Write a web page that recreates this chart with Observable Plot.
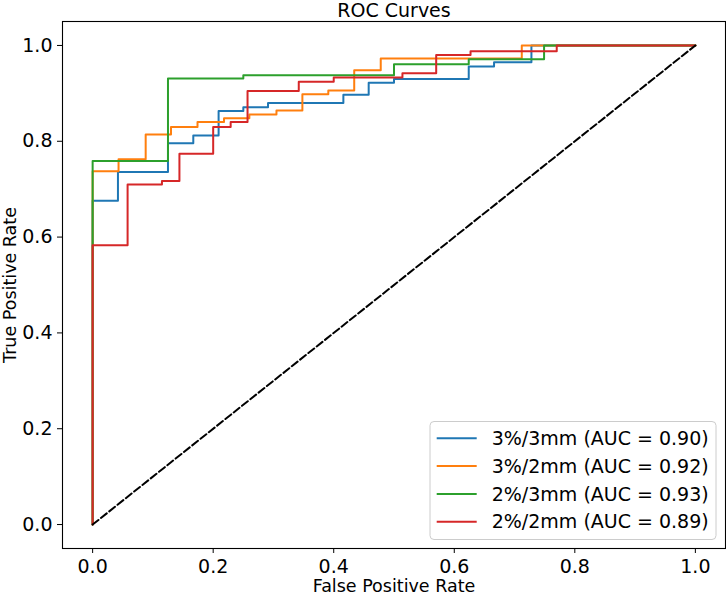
<!DOCTYPE html>
<html>
<head>
<meta charset="utf-8">
<script src="https://cdn.jsdelivr.net/npm/d3@7"></script>
<script src="https://cdn.jsdelivr.net/npm/@observablehq/plot@0.6"></script>
<style>
  body { margin: 0; background: #fff; }
  #chart { width: 726px; height: 595px; }
</style>
</head>
<body>
<div id="chart"></div>
<script>
// series labels, AUC and matplotlib tab10 colours
const names = ["3%/3mm", "3%/2mm", "2%/3mm", "2%/2mm"];
const aucs = [0.90, 0.92, 0.93, 0.89];
const colors = ["#1f77b4", "#ff7f0e", "#2ca02c", "#d62728"];

// ROC steps: fpr where the curve rises, tpr after the rise (drawn step-after)
const fpr33 = [0, 0, 0.042, 0.125, 0.167, 0.209, 0.25, 0.291, 0.416, 0.458, 0.5, 0.624, 0.666, 0.728, 1];
const tpr33 = [0, 0.676, 0.736, 0.796, 0.812, 0.863, 0.871, 0.880, 0.897, 0.922, 0.930, 0.956, 0.965, 1, 1];

const fpr32 = [0, 0, 0.043, 0.088, 0.13, 0.174, 0.218, 0.26, 0.305, 0.348, 0.391, 0.434, 0.478, 0.712, 1];
const tpr32 = [0, 0.7375, 0.7625, 0.814, 0.830, 0.840, 0.848, 0.856, 0.864, 0.898, 0.906, 0.948, 0.973, 1, 1];

const fpr23 = [0, 0, 0.125, 0.25, 0.5, 0.624, 0.749, 1];
const tpr23 = [0, 0.759, 0.931, 0.938, 0.961, 0.971, 1, 1];

const fpr22 = [0, 0, 0.058, 0.115, 0.144, 0.2, 0.229, 0.257, 0.342, 0.40, 0.514, 0.570, 0.627, 0.770, 1];
const tpr22 = [0, 0.583, 0.71, 0.717, 0.774, 0.83, 0.84, 0.905, 0.924, 0.933, 0.942, 0.98, 0.988, 1, 1];

const diagX = [0, 1];
const diagY = [0, 1];
const ticks = [0, 0.2, 0.4, 0.6, 0.8, 1.0];

const labels = names.map((n, i) => `${n} (AUC = ${aucs[i].toFixed(2)})`);
const allFpr = [fpr33, fpr32, fpr23, fpr22];
const allTpr = [tpr33, tpr32, tpr23, tpr22];

const rows = [];
labels.forEach((label, i) => {
  allFpr[i].forEach((f, j) => rows.push({ label, fpr: f, tpr: allTpr[i][j] }));
});
const diag = diagX.map((x, i) => ({ x, y: diagY[i] }));

const fmt = d3.format(".1f");

const chart = Plot.plot({
  width: 726,
  height: 595,
  marginLeft: 62,
  marginRight: 1,
  marginTop: 21,
  marginBottom: 47,
  style: { fontFamily: "DejaVu Sans", fontSize: "17.5px", color: "#000", background: "#fff", overflow: "visible" },
  x: { domain: [-0.05, 1.05] },
  y: { domain: [-0.05, 1.05] },
  color: { domain: labels, range: colors },
  marks: [
    Plot.axisX({ ticks, tickFormat: fmt, tickSize: 5, tickPadding: 6, label: "False Positive Rate", labelAnchor: "center", labelArrow: "none", labelOffset: 43 }),
    Plot.axisY({ ticks, tickFormat: fmt, tickSize: 5, tickPadding: 5, label: "True Positive Rate", labelAnchor: "center", labelArrow: "none", labelOffset: 59 }),
    Plot.line(rows, { x: "fpr", y: "tpr", z: "label", stroke: "label", strokeWidth: 2, curve: "step-after" }),
    Plot.line(diag, { x: "x", y: "y", stroke: "#000", strokeWidth: 2, strokeDasharray: "7.4,3.2" }),
    Plot.frame({ stroke: "#000", strokeWidth: 1.1 }),
    Plot.text(["ROC Curves"], { frameAnchor: "top", lineAnchor: "bottom", dy: -5, fontSize: 19 })
  ]
});
document.querySelector("#chart").append(chart);

const svg = d3.select(chart);
// tick labels a little larger than the axis titles
svg.selectAll('g[aria-label="x-axis tick label"], g[aria-label="y-axis tick label"]').attr("font-size", 19);

// legend box, drawn like matplotlib's lower-right legend
const lg = svg.append("g")
  .attr("font-family", "DejaVu Sans").attr("font-size", 19).attr("text-anchor", "start");
lg.append("rect")
  .attr("x", 430).attr("y", 421.5).attr("width", 286).attr("height", 118)
  .attr("rx", 4).attr("fill", "#fff").attr("fill-opacity", 0.8)
  .attr("stroke", "#cccccc").attr("stroke-width", 1);
labels.forEach((label, i) => {
  const y = 438.3 + i * 27.8;
  lg.append("line")
    .attr("x1", 436.7).attr("x2", 476.7).attr("y1", y).attr("y2", y)
    .attr("stroke", colors[i]).attr("stroke-width", 2);
  lg.append("text")
    .attr("x", 491.7).attr("y", y).attr("dy", "0.35em")
    .attr("fill", "#000").text(label);
});
</script>
</body>
</html>
